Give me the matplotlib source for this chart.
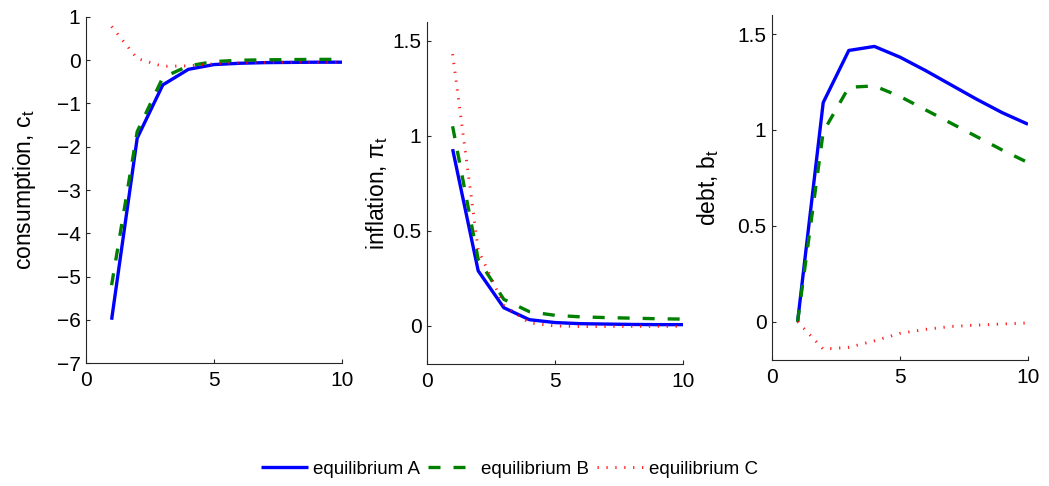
import matplotlib
matplotlib.use("Agg")
import matplotlib.pyplot as plt

plt.rcParams['font.family'] = ['Liberation Sans', 'DejaVu Sans']
plt.rcParams['mathtext.fontset'] = 'custom'
plt.rcParams['mathtext.rm'] = 'Liberation Sans'
plt.rcParams['mathtext.it'] = 'Liberation Sans'
plt.rcParams['mathtext.bf'] = 'Liberation Sans'

t = [1, 2, 3, 4, 5, 6, 7, 8, 9, 10]

cons_A = [-6.0, -1.8, -0.57, -0.21, -0.10, -0.07, -0.055, -0.05, -0.045, -0.045]
cons_B = [-5.2, -1.65, -0.40, -0.13, -0.03, 0.0, 0.01, 0.015, 0.02, 0.02]
cons_C = [0.78, 0.04, -0.14, -0.13, -0.08, -0.06, -0.05, -0.045, -0.045, -0.045]

infl_A = [0.93, 0.29, 0.096, 0.033, 0.018, 0.012, 0.01, 0.008, 0.007, 0.007]
infl_B = [1.05, 0.35, 0.14, 0.075, 0.056, 0.048, 0.044, 0.041, 0.038, 0.036]
infl_C = [1.43, 0.40, 0.11, 0.016, 0.0, -0.003, -0.003, -0.002, -0.002, -0.002]

debt_A = [0.0, 1.143, 1.415, 1.436, 1.38, 1.31, 1.235, 1.16, 1.09, 1.03]
debt_B = [0.0, 0.99, 1.223, 1.23, 1.175, 1.105, 1.035, 0.965, 0.895, 0.83]
debt_C = [0.0, -0.143, -0.134, -0.10, -0.061, -0.04, -0.025, -0.018, -0.012, -0.007]

labels = ['equilibrium A', 'equilibrium B', 'equilibrium C']
ylabels = ['consumption, c$_{\\mathregular{t}}$',
           'inflation, $\\pi_{\\mathregular{t}}$',
           'debt, b$_{\\mathregular{t}}$']

ylims = [(-7, 1), (-0.2, 1.6), (-0.2, 1.6)]
yticks = [[-7, -6, -5, -4, -3, -2, -1, 0, 1], [0, 0.5, 1, 1.5], [0, 0.5, 1, 1.5]]
yticklabels = [['−7', '−6', '−5', '−4', '−3', '−2', '−1', '0', '1'],
               ['0', '0.5', '1', '1.5'], ['0', '0.5', '1', '1.5']]
xticks = [0, 5, 10]

W, H = 1049, 486
fig = plt.figure(figsize=(W / 100, H / 100), dpi=100)

# pixel boxes: left, top, right, bottom
boxes = [(86, 17, 342, 363), (427, 21.7, 683, 364), (772, 15, 1028, 360)]
label_x = [-0.24, -0.195, -0.25]

data = [(cons_A, cons_B, cons_C), (infl_A, infl_B, infl_C), (debt_A, debt_B, debt_C)]

axcol = '#262626'
handles = None
for i in range(3):
    l, tp, r, b = boxes[i]
    ax = fig.add_axes([l / W, (H - b) / H, (r - l) / W, (b - tp) / H])
    A, B, C = data[i]
    hA, = ax.plot(t, A, color=(0, 0, 1), lw=2.4, solid_capstyle='butt', label=labels[0])
    hB, = ax.plot(t, B, color=(0, 0.5, 0), lw=2.4, dashes=(3.6, 3.9), label=labels[1])
    hC, = ax.plot(t, C, color=(1, 0, 0), lw=2.1, dashes=(0.45, 2.6), alpha=0.85,
                  label=labels[2])
    if handles is None:
        handles = [hA, hB, hC]
    ax.set_xlim(0, 10)
    ax.set_ylim(*ylims[i])
    ax.set_xticks(xticks)
    ax.set_xticklabels([str(x) for x in xticks])
    ax.set_yticks(yticks[i])
    ax.set_yticklabels(yticklabels[i])
    for s in ['top', 'right']:
        ax.spines[s].set_visible(False)
    for s in ['left', 'bottom']:
        ax.spines[s].set_color(axcol)
        ax.spines[s].set_linewidth(0.8)
    ax.tick_params(direction='in', length=2.9, width=0.8, color=axcol,
                   labelsize=15, labelcolor='black')
    ax.tick_params(axis='x', pad=6)
    ax.tick_params(axis='y', pad=4)
    ax.set_ylabel(ylabels[i], fontsize=16.5)
    ax.yaxis.label.set_verticalalignment('center')
    ax.yaxis.set_label_coords(label_x[i], 0.5)

fig.legend(handles, labels, loc='center', bbox_to_anchor=(509.5 / W, 1 - 469 / H),
           ncol=3, frameon=False, fontsize=13.5, handlelength=2.5,
           handletextpad=0.28, columnspacing=0.45, borderaxespad=0)

fig.savefig('out.png', dpi=100)
